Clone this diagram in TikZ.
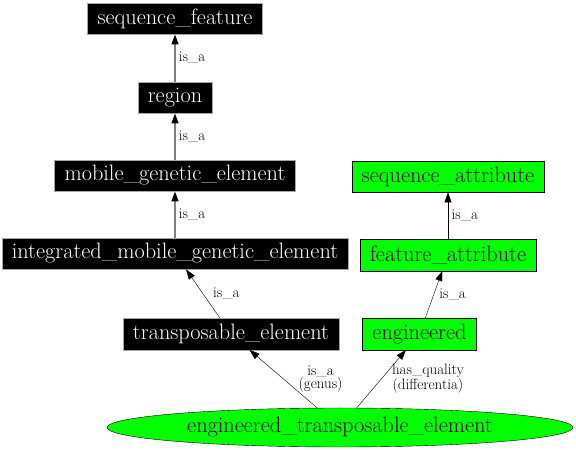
\documentclass[tikz,border=0pt]{standalone}
\usetikzlibrary{arrows.meta,positioning,shapes.geometric}

\begin{document}
\begin{tikzpicture}[
		x=1pt, y=1pt,
		term/.style={draw=gray!70, fill=black, text=white, minimum height=31.5pt, inner xsep=10pt, inner ysep=0pt, font=\fontsize{22.3}{26}\selectfont},
		attr/.style={term, draw=black, fill=green, text=black},
		lbl/.style={inner sep=1pt, align=center, font=\fontsize{15}{13.5}\selectfont},
		isa/.style={draw=gray, line width=1.6pt, -{Triangle[black, length=10pt, width=7pt]}},
		rel/.style={draw=black, thin, -{Triangle[length=10pt, width=7pt]}},
	]
		\useasboundingbox (0,0) rectangle (576,450);

		\node[term] (sf) at (175,431.5) {sequence\_feature};
		\node[term] (region) at (175,352.5) {region};
		\node[term] (mge) at (175,274.5) {mobile\_genetic\_element};
		\node[term] (imge) at (175,196.5) {integrated\_mobile\_genetic\_element};
		\node[term] (te) at (231,116) {transposable\_element};
		\node[attr] (eng) at (419.5,116) {engineered};
		\node[attr] (fa) at (448,195) {feature\_attribute};
		\node[attr] (sa) at (448,273.5) {sequence\_attribute};
		\node[ellipse, draw, fill=green, minimum width=466pt, minimum height=39pt, inner sep=0pt, font=\fontsize{22.3}{26}\selectfont] (ete) at (340,22.5) {engineered\_transposable\_element};

		\draw[isa] (region) -- (sf) node[lbl, midway, right=2pt] {is\_a};
		\draw[isa] (mge) -- (region) node[lbl, midway, right=2pt] {is\_a};
		\draw[isa] (imge) -- (mge) node[lbl, midway, right=2pt] {is\_a};
		\draw[rel] (te) -- (imge) node[lbl, midway, right=9pt] {is\_a};
		\draw[rel] (fa) -- (sa) node[lbl, midway, right=2.5pt] {is\_a};
		\draw[rel] (eng) -- (fa) node[lbl, midway, right=4.5pt] {is\_a};
		\draw[rel] (ete) -- (te) node[lbl, midway, right=14pt] {is\_a\\(genus)};
		\draw[rel] (ete) -- (eng) node[lbl, midway, right=9.5pt] {has\_quality\\(differentia)};
	\end{tikzpicture}
\end{document}
